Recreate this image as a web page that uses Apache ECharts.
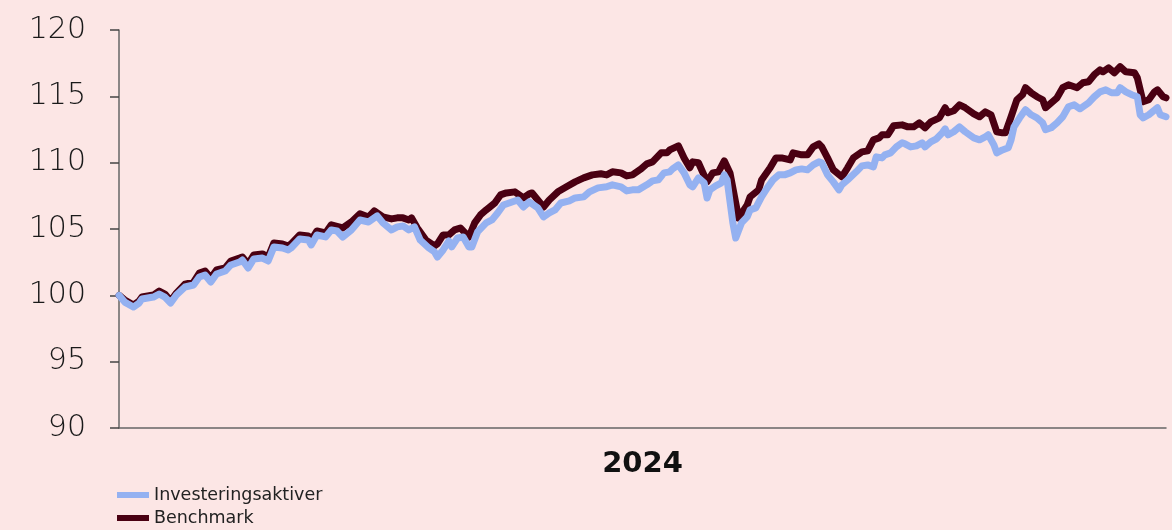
<!DOCTYPE html>
<html>
<head>
<meta charset="utf-8">
<script src="https://cdn.jsdelivr.net/npm/echarts@6/dist/echarts.min.js"></script>
<style>
html,body{margin:0;padding:0;background:#fce6e5;}
#chart{width:1172px;height:530px;}
</style>
</head>
<body>
<div id="chart"></div>
<script>
// Day of year (2024) and index values
const invDay = [0,2,5,7,8,12,14,16,18,20,23,26,28,30,32,34,37,39,42,43,45,47,50,52,54,57,59,60,63,66,67,69,72,74,76,78,81,84,87,90,92,95,97,99,101,103,105,108,110,111,113,115,116,118,120,122,123,125,128,130,132,134,137,139,141,143,146,148,150,152,154,157,159,162,164,167,170,172,175,177,179,181,184,186,188,190,192,193,195,197,199,200,202,204,205,206,208,210,211,212,214,215,217,219,220,222,224,226,228,230,232,234,236,238,240,242,244,245,247,249,251,252,254,257,259,261,263,264,266,267,269,271,273,274,276,278,280,281,283,285,287,288,289,291,293,295,298,300,302,303,305,306,308,310,311,312,314,316,318,320,322,323,325,327,329,331,333,335,337,338,340,342,344,346,348,349,351,353,355,356,357,359,362,363,365];
const invVal = [100.0,99.49,99.12,99.42,99.72,99.87,100.10,99.87,99.42,100.02,100.63,100.78,101.38,101.53,101.00,101.61,101.83,102.29,102.51,102.66,102.06,102.74,102.81,102.59,103.65,103.57,103.42,103.57,104.25,104.17,103.80,104.55,104.40,104.93,104.85,104.40,104.93,105.68,105.53,105.99,105.46,104.93,105.16,105.23,104.93,105.16,104.17,103.57,103.27,102.89,103.42,104.10,103.65,104.32,104.40,103.65,103.65,104.78,105.46,105.68,106.21,106.81,107.04,107.19,106.66,107.04,106.59,105.91,106.21,106.44,106.96,107.12,107.34,107.42,107.80,108.10,108.18,108.33,108.18,107.87,107.95,107.95,108.33,108.63,108.70,109.23,109.31,109.53,109.83,109.23,108.33,108.18,108.85,108.48,107.34,107.95,108.25,108.48,109.08,108.70,105.46,104.32,105.46,105.91,106.44,106.59,107.42,108.10,108.70,109.08,109.08,109.23,109.46,109.53,109.46,109.83,110.06,109.99,109.08,108.55,107.95,108.33,108.70,109.31,109.76,109.83,109.68,110.44,110.36,110.59,110.74,111.19,111.50,111.42,111.19,111.27,111.50,111.19,111.57,111.80,112.25,112.55,112.10,112.33,112.70,112.33,111.87,111.72,111.95,112.10,111.34,110.74,110.96,111.12,111.72,112.70,113.38,113.99,113.61,113.38,113.00,112.48,112.63,113.00,113.46,114.21,114.36,114.06,114.36,114.51,114.97,115.34,115.49,115.27,115.27,115.65,115.34,115.12,114.97,113.61,113.38,113.61,114.14,113.61,113.46];

const bmDay = [0,2,5,7,8,12,14,16,18,20,23,26,28,30,32,34,37,39,42,43,45,47,50,52,54,57,59,60,63,66,67,69,72,74,78,81,84,87,89,92,95,97,99,101,102,104,107,110,111,113,115,117,119,122,124,126,128,131,133,135,138,141,143,144,148,150,153,156,159,162,165,168,170,172,175,177,179,182,184,186,189,191,192,195,197,199,200,202,205,207,209,211,213,216,219,220,223,224,227,229,231,234,235,238,240,242,244,245,247,249,252,254,256,259,261,263,265,266,268,270,273,275,277,279,281,283,286,288,289,291,293,295,298,300,302,304,306,308,309,311,313,315,316,318,320,322,323,325,327,329,331,334,336,338,340,342,343,345,347,349,351,354,355,357,359,361,362,364,365];
const bmVal = [100.0,99.65,99.27,99.57,99.87,100.02,100.32,100.10,99.57,100.17,100.85,101.00,101.68,101.83,101.31,101.91,102.06,102.59,102.81,102.89,102.36,103.04,103.12,102.89,103.95,103.87,103.72,103.87,104.55,104.48,104.17,104.85,104.70,105.31,105.08,105.53,106.14,105.91,106.36,105.91,105.76,105.84,105.84,105.68,105.84,105.08,104.17,103.72,103.87,104.55,104.55,104.93,105.08,104.40,105.46,106.06,106.44,106.96,107.57,107.72,107.80,107.34,107.65,107.72,106.66,107.19,107.80,108.18,108.55,108.85,109.08,109.16,109.08,109.31,109.23,109.00,109.08,109.53,109.91,110.06,110.74,110.74,110.96,111.27,110.36,109.61,110.06,109.99,108.55,109.23,109.31,110.14,109.23,105.83,106.81,107.42,107.95,108.70,109.61,110.36,110.36,110.21,110.74,110.59,110.59,111.19,111.42,111.19,110.36,109.46,108.93,109.61,110.36,110.81,110.89,111.72,111.87,112.10,112.10,112.78,112.85,112.70,112.70,113.00,112.63,113.08,113.38,114.14,113.76,113.91,114.36,114.14,113.68,113.46,113.83,113.61,112.33,112.25,112.25,113.46,114.74,115.12,115.65,115.27,114.97,114.74,114.14,114.51,114.89,115.65,115.87,115.65,116.02,116.10,116.63,117.00,116.85,117.15,116.78,117.23,116.85,116.78,116.40,114.59,114.74,115.34,115.49,114.97,114.89];

const yTicks = [90, 95, 100, 105, 110, 115, 120];
const seriesNames = ['Investeringsaktiver', 'Benchmark'];
const yearLabel = '2024';

const pair = (xs, ys) => xs.map((x, i) => [x, ys[i]]);

const chart = echarts.init(document.getElementById('chart'), null, {renderer: 'canvas'});
chart.setOption({
  backgroundColor: '#fce6e5',
  animation: false,
  grid: {left: 119, right: 6, top: 30, bottom: 102, containLabel: false},
  legend: {
    data: seriesNames,
    orient: 'vertical',
    left: 112,
    top: 485,
    height: 60,
    padding: [0, 5],
    itemWidth: 32,
    itemHeight: 6,
    itemGap: 3,
    icon: 'rect',
    textStyle: {fontFamily: 'DejaVu Sans', fontSize: 17.5, color: '#222', lineHeight: 20}
  },
  xAxis: {
    type: 'value',
    min: 0,
    max: 365,
    name: yearLabel,
    nameLocation: 'middle',
    nameGap: 22,
    nameTextStyle: {fontFamily: 'DejaVu Sans', fontSize: 29, fontWeight: 'bold', color: '#111', verticalAlign: 'top'},
    axisLine: {show: true, lineStyle: {color: '#666', width: 1.5}},
    axisTick: {show: false},
    axisLabel: {show: false},
    splitLine: {show: false}
  },
  yAxis: {
    type: 'value',
    min: yTicks[0],
    max: yTicks[yTicks.length - 1],
    interval: 5,
    axisLine: {show: true, lineStyle: {color: '#666', width: 1.5}},
    axisTick: {show: true, length: 9, lineStyle: {color: '#444', width: 1.5}},
    axisLabel: {margin: 33, fontFamily: 'DejaVu Sans', fontWeight: 200, fontSize: 30, color: '#1a1a1a'},
    splitLine: {show: false}
  },
  series: [
    {
      name: 'Benchmark',
      type: 'line',
      data: pair(bmDay, bmVal),
      showSymbol: false,
      symbol: 'none',
      lineStyle: {color: '#4a0012', width: 7, join: 'round', cap: 'round'},
      itemStyle: {color: '#4a0012'},
      z: 2
    },
    {
      name: 'Investeringsaktiver',
      type: 'line',
      data: pair(invDay, invVal),
      showSymbol: false,
      symbol: 'none',
      lineStyle: {color: '#94b1f1', width: 7, join: 'round', cap: 'round'},
      itemStyle: {color: '#94b1f1'},
      z: 3
    }
  ]
});
</script>
</body>
</html>
